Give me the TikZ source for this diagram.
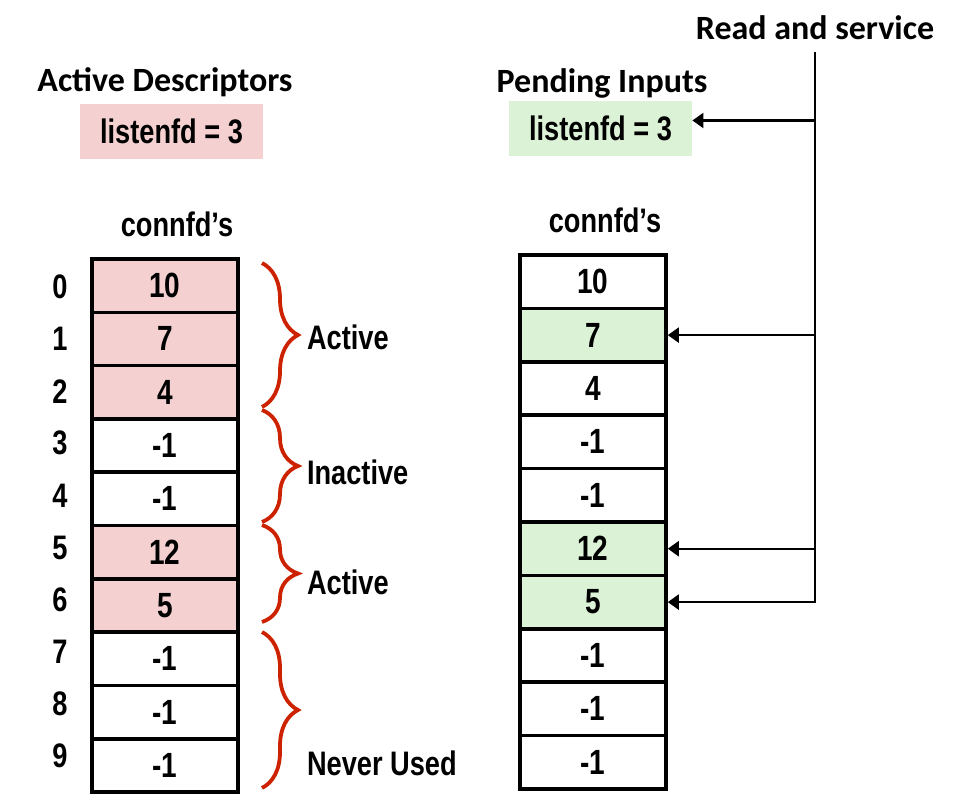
\documentclass[tikz,border=0pt]{standalone}
\usepackage{fontspec}
\newfontfamily\narrowfont[FakeStretch=0.8]{Liberation Sans}
\newfontfamily\headfont{Carlito}
\usetikzlibrary{arrows.meta,decorations.pathreplacing,positioning}
\definecolor{pinkfill}{RGB}{244,208,208}
\definecolor{greenfill}{RGB}{220,242,214}
\definecolor{bracered}{RGB}{204,34,0}

\begin{document}
\begin{tikzpicture}[x=0.5pt, y=-0.5pt,
  cell/.style={draw, line width=1.8pt, minimum width=73pt, minimum height=26.65pt, inner sep=0pt, font=\narrowfont\bfseries\fontsize{17.5}{20}\selectfont},
  txt/.style={font=\narrowfont\bfseries\fontsize{17}{20}\selectfont},
  head/.style={font=\headfont\bfseries\fontsize{17}{20}\selectfont},
  brc/.style={bracered, line width=1.9pt, decorate, decoration={brace, amplitude=18pt}},
  link/.style={black, line width=1.1pt, -{Triangle[length=5.5pt,width=7.5pt]}}]
\useasboundingbox (0,0) rectangle (971,810);

\node [head] (hl) at (165,82) {Active Descriptors};
\node [txt, fill=pinkfill, minimum width=91.5pt, minimum height=27.5pt] (ll) at (171.5,131.5) {listenfd = 3};
\node [txt] (cl) at (177,224) {connfd’s};

\foreach \i in {0,...,9}
  \node [txt] (n\i) at (60,287+52.1*\i) {\i};

\foreach \v/\c [count=\i from 0] in {10/pinkfill,7/pinkfill,4/pinkfill,-1/white,-1/white,12/pinkfill,5/pinkfill,-1/white,-1/white,-1/white}
  \node [cell, fill=\c] (l\i) at (165,285.65+53.3*\i) {\v};

\draw [brc] (262,263) -- (262,407);
\draw [brc] (262,410) -- (262,522);
\draw [brc] (262,525) -- (262,622);
\draw [brc] (262,632) -- (262,788);

\node [txt, anchor=west] (a1) at (300,337) {Active};
\node [txt, anchor=west] (a2) at (300,472) {Inactive};
\node [txt, anchor=west] (a3) at (300,582) {Active};
\node [txt, anchor=west] (a4) at (300,763) {Never Used};

\node [head] (hp) at (602,83) {Pending Inputs};
\node [txt, fill=greenfill, minimum width=91.5pt, minimum height=27.5pt] (pl) at (600.5,128.5) {listenfd = 3};
\node [txt] (cr) at (605,220) {connfd’s};

\foreach \v/\c [count=\i from 0] in {10/white,7/greenfill,4/white,-1/white,-1/white,12/greenfill,5/greenfill,-1/white,-1/white,-1/white}
  \node [cell, fill=\c] (r\i) at (593,281.7+53.4*\i) {\v};

\node [head] (rs) at (815,28) {Read and service};
\coordinate (top) at (815,52);
\coordinate (pa) at ([yshift=4pt]pl.east);

\draw [link] (top) |- (r6.east);
\draw [link] (top |- r5.east) -- (r5.east);
\draw [link] (top |- r1.east) -- (r1.east);
\draw [link] (top |- pa) -- (pa);

\end{tikzpicture}
\end{document}
